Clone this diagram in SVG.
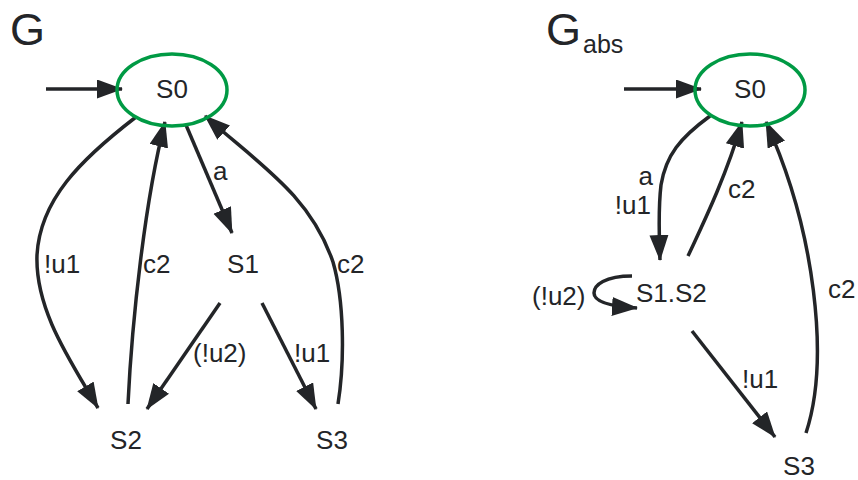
<svg xmlns="http://www.w3.org/2000/svg" width="858" height="480" viewBox="0 0 858 480">
<style>
text{font-family:"Liberation Sans",Arial,sans-serif;fill:#232528;font-size:26px}
.title{font-size:45px}
.sub{font-size:25px}
.st{fill:none;stroke:#009a44;stroke-width:3.5}
.e{fill:none;stroke:#232528;stroke-width:3.5;marker-end:url(#ah)}
.m{text-anchor:middle}
.r{text-anchor:end}
</style>
<defs>
<marker id="ah" markerUnits="userSpaceOnUse" markerWidth="27" markerHeight="20" refX="25" refY="9.5" orient="auto">
<path d="M0,0 L26,9.5 L0,19 z" fill="#232528"/>
</marker>
</defs>
<text class="title" x="10" y="45">G</text>
<text class="title" x="546" y="45">G<tspan class="sub" dx="2" dy="8">abs</tspan></text>

<g id="connectors">
<path class="e" d="M46,89 L122,89"/>
<path class="e" d="M136,117 C80,160 40,200 37,255 C35,310 70,360 98,408"/>
<path class="e" d="M128,404 C132,320 145,200 165,122"/>
<path class="e" d="M186,125 L232,233"/>
<path class="e" d="M220,303 L147,409"/>
<path class="e" d="M262,303 L316,409"/>
<path class="e" d="M338,404 C345,360 344,300 333,262 C310,195 260,165 205,116"/>

<path class="e" d="M624,89 L701,89"/>
<path class="e" d="M710,116 C680,138 666,155 661,185 C658,210 659,235 660,260"/>
<path class="e" d="M688,256 C700,230 725,180 742,122"/>
<path class="e" d="M806,433 C830,360 815,230 766,122"/>
<path class="e" d="M632,276 C605,276 594,285 594,293 C594,300 605,306 637,308"/>
<path class="e" d="M692,331 L775,437"/>
</g>

<g id="labels">
<text x="44" y="273">!u1</text>
<text x="143" y="273">c2</text>
<text x="213" y="180">a</text>
<text x="193" y="362">(!u2)</text>
<text x="294" y="362">!u1</text>
<text x="337" y="273">c2</text>
<text class="r" x="653" y="185">a</text>
<text class="r" x="651" y="214">!u1</text>
<text x="728" y="198">c2</text>
<text x="828" y="298">c2</text>
<text x="532" y="305">(!u2)</text>
<text x="742" y="388">!u1</text>
</g>

<g id="G-S0"><ellipse class="st" cx="172" cy="90" rx="55" ry="36"/><text class="m" x="172" y="98">S0</text></g>
<g id="G-S1"><text class="m" x="243" y="273">S1</text></g>
<g id="G-S2"><text class="m" x="126" y="449">S2</text></g>
<g id="G-S3"><text class="m" x="332" y="449">S3</text></g>

<g id="Gabs-S0"><ellipse class="st" cx="750" cy="90" rx="55" ry="36"/><text class="m" x="750" y="98">S0</text></g>
<g id="Gabs-S12"><text x="636" y="302">S1.S2</text></g>
<g id="Gabs-S3"><text class="m" x="799" y="475">S3</text></g>
</svg>
